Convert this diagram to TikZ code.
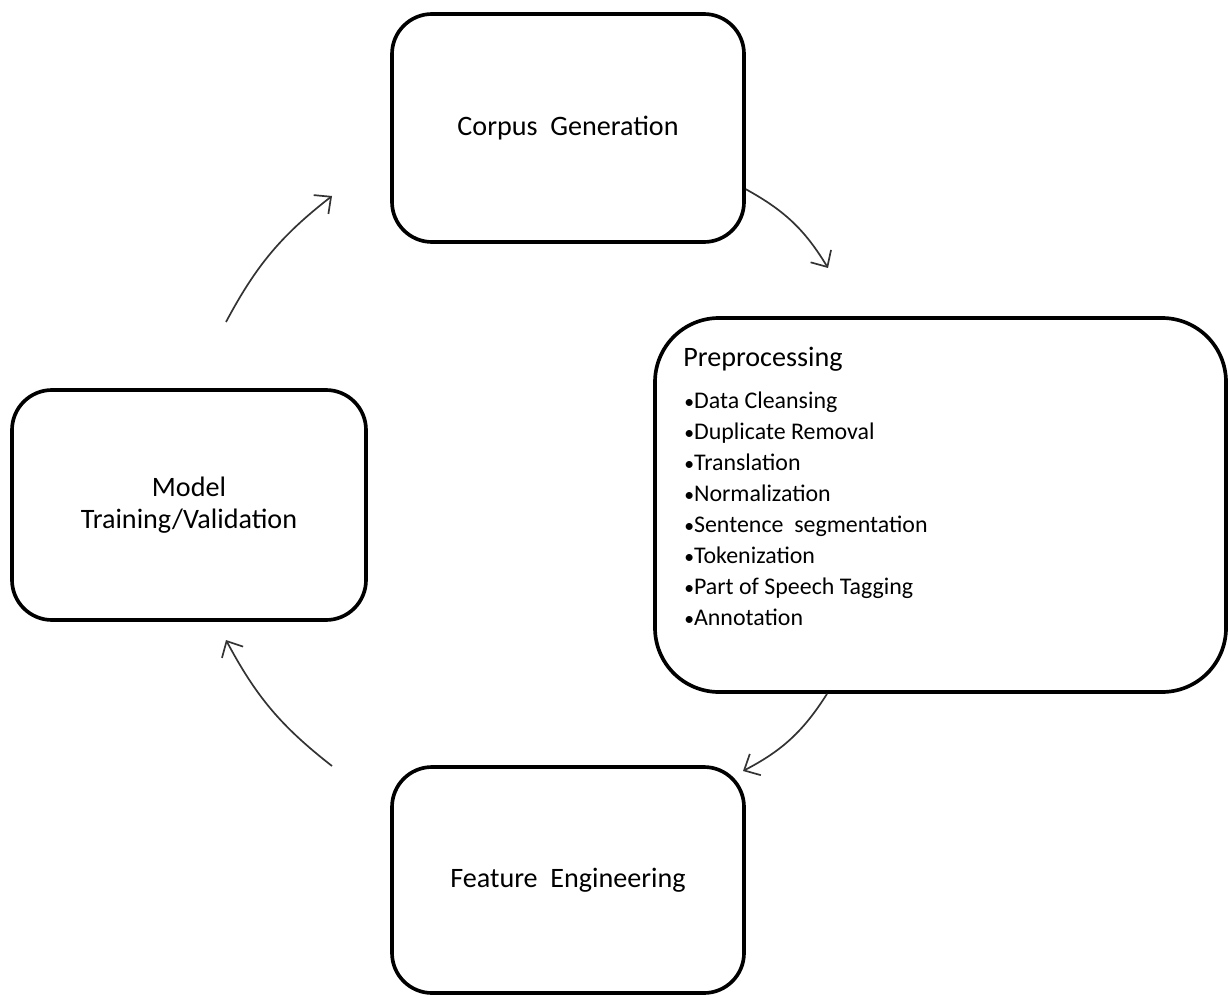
\documentclass[tikz,border=0pt]{standalone}
\usepackage{fontspec}
\setmainfont{Carlito}
\usetikzlibrary{arrows.meta}
\newcommand{\itembul}{{\fontsize{14}{14}\selectfont•}}
\tikzset{
  stage/.style={draw=black,line width=2.6pt,rounded corners=1cm,fill=white,
    align=center,font=\fontsize{20}{23}\selectfont},
  flow/.style={draw=black!80,line width=1.2pt,
    -{Straight Barb[length=9pt,width=17pt,line width=1.2pt]}}
}
\begin{document}
\begin{tikzpicture}[x=0.025cm,y=0.025cm]
\useasboundingbox (0,0) rectangle (1228,996);

\node[stage,minimum width=352*0.025cm,minimum height=228*0.025cm] (corpus)  at (568,868) {Corpus\ \ Generation};
\node[stage,minimum width=571*0.025cm,minimum height=374*0.025cm,rounded corners=1.6cm] (pre) at (940.5,491) {};
\node[stage,minimum width=354*0.025cm,minimum height=230*0.025cm] (model)   at (189,491) {Model\\Training/Validation};
\node[stage,minimum width=352*0.025cm,minimum height=226*0.025cm] (feature) at (568,116) {Feature\ \ Engineering};

\node[anchor=base west,inner sep=0pt,font=\fontsize{20}{23}\selectfont] (prehead) at (683,629) {Preprocessing};
\node[anchor=north west,inner sep=0pt,align=left,font=\fontsize{17}{22}\selectfont] (prelist) at (684,604)
  {\itembul Data Cleansing\\\itembul Duplicate Removal\\\itembul Translation\\\itembul Normalization\\
   \itembul Sentence\ \ segmentation\\\itembul Tokenization\\\itembul Part of Speech Tagging\\\itembul Annotation};

\coordinate (a1) at (828,728);
\coordinate (a2) at (743,225);
\coordinate (b3) at (332,230);
\coordinate (a3) at (226,356);
\coordinate (b4) at (226,674);
\coordinate (a4) at (332,800);

\draw[flow] (corpus.-19) to[bend left=15] (a1);
\draw[flow] (pre.-121) to[bend left=15] (a2);
\draw[flow] (b3) to[bend left=12] (a3);
\draw[flow] (b4) to[bend left=12] (a4);

\end{tikzpicture}
\end{document}
